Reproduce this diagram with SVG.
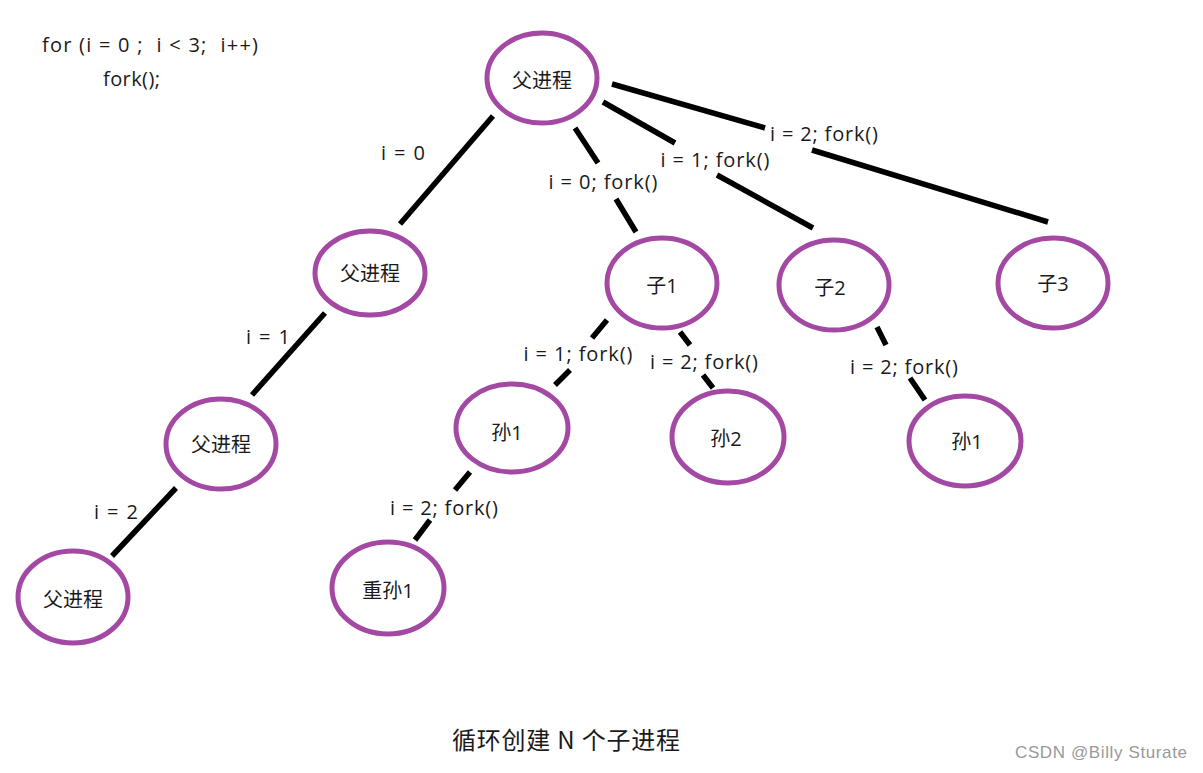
<svg xmlns="http://www.w3.org/2000/svg" width="1203" height="773" viewBox="0 0 1203 773">
<style>
.n{fill:none;stroke:#a349a4;stroke-width:5}
.t{font-family:"Open Sans","Noto Sans CJK SC",sans-serif;font-size:20px;fill:#1a1a1a;text-anchor:middle;dominant-baseline:central}
.l{font-family:"Open Sans","Noto Sans CJK SC",sans-serif;font-size:20px;fill:#1a1a1a}
.e{stroke:#000;stroke-width:5.5;fill:none}
</style>
<rect width="1203" height="773" fill="#fff"/>
<text class="l" x="42" y="52" xml:space="preserve" textLength="216" lengthAdjust="spacing">for (i = 0 ;  i &lt; 3;  i++)</text>
<text class="l" x="103" y="86" textLength="57" lengthAdjust="spacing">fork();</text>
<g id="edges">
<path class="e" d="M493 116L400 224"/>
<path class="e" d="M325 313L252 395"/>
<path class="e" d="M176 488L112 556"/>
<path class="e" d="M575 128L598 163M616 199L636 232"/>
<path class="e" d="M603 102L675 143M717 175L813 228"/>
<path class="e" d="M612 84L765 128M812 150L1048 222"/>
<path class="e" d="M607 320L592 338M570 370L555 385"/>
<path class="e" d="M680 332L690 345M703 375L713 388"/>
<path class="e" d="M877 327L886 345M910 378L925 400"/>
<path class="e" d="M470 472L455 490M430 520L415 540"/>
</g>
<g id="labels">
<text class="t" x="403" y="152" textLength="44" lengthAdjust="spacing">i = 0</text>
<text class="t" x="268" y="336" textLength="44" lengthAdjust="spacing">i = 1</text>
<text class="t" x="116" y="511" textLength="44" lengthAdjust="spacing">i = 2</text>
<text class="t" x="603" y="181" textLength="109" lengthAdjust="spacing">i = 0; fork()</text>
<text class="t" x="715" y="159" textLength="109" lengthAdjust="spacing">i = 1; fork()</text>
<text class="t" x="824" y="133" textLength="108" lengthAdjust="spacing">i = 2; fork()</text>
<text class="t" x="578" y="353" textLength="109" lengthAdjust="spacing">i = 1; fork()</text>
<text class="t" x="704" y="361" textLength="108" lengthAdjust="spacing">i = 2; fork()</text>
<text class="t" x="904" y="366" textLength="108" lengthAdjust="spacing">i = 2; fork()</text>
<text class="t" x="444" y="507" textLength="108" lengthAdjust="spacing">i = 2; fork()</text>
</g>
<g id="n-root"><ellipse class="n" cx="542" cy="78" rx="55" ry="45"/><text class="t" x="542" y="80">父进程</text></g>
<g id="n-p1"><ellipse class="n" cx="370" cy="273" rx="55" ry="42"/><text class="t" x="370" y="273">父进程</text></g>
<g id="n-p2"><ellipse class="n" cx="221" cy="444" rx="55" ry="45"/><text class="t" x="221" y="444">父进程</text></g>
<g id="n-p3"><ellipse class="n" cx="73" cy="597" rx="55" ry="46"/><text class="t" x="73" y="599">父进程</text></g>
<g id="n-c1"><ellipse class="n" cx="662" cy="283" rx="55" ry="45"/><text class="t" x="662" y="285">子1</text></g>
<g id="n-c2"><ellipse class="n" cx="834" cy="285" rx="55" ry="45"/><text class="t" x="830" y="287">子2</text></g>
<g id="n-c3"><ellipse class="n" cx="1053" cy="283" rx="55" ry="45"/><text class="t" x="1053" y="283">子3</text></g>
<g id="n-g1"><ellipse class="n" cx="512" cy="428" rx="56" ry="44"/><text class="t" x="507" y="432">孙1</text></g>
<g id="n-g2"><ellipse class="n" cx="728" cy="437" rx="56" ry="46"/><text class="t" x="726" y="438">孙2</text></g>
<g id="n-g3"><ellipse class="n" cx="965" cy="441" rx="56" ry="45"/><text class="t" x="967" y="441">孙1</text></g>
<g id="n-gg1"><ellipse class="n" cx="388" cy="588" rx="56" ry="46"/><text class="t" x="388" y="590">重孙1</text></g>
<text x="452" y="749" font-family="'Noto Sans CJK SC',sans-serif" font-size="24" fill="#1a1a1a" textLength="228" lengthAdjust="spacing">循环创建 N 个子进程</text>
<text x="1015" y="758" font-family="'Liberation Sans',sans-serif" font-size="17" fill="#999" textLength="172" lengthAdjust="spacing">CSDN @Billy Sturate</text>
</svg>
